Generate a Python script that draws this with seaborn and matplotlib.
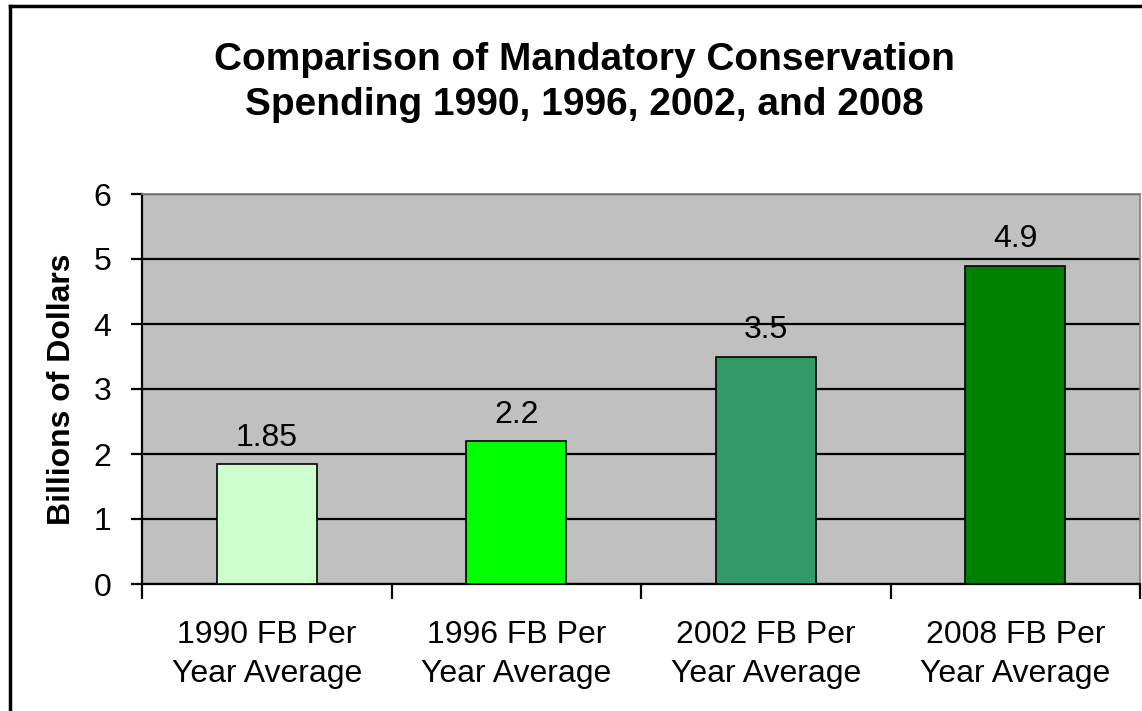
import pandas as pd
import seaborn as sns
import matplotlib.pyplot as plt
from matplotlib.lines import Line2D

categories = ["1990 FB Per\nYear Average", "1996 FB Per\nYear Average",
              "2002 FB Per\nYear Average", "2008 FB Per\nYear Average"]
spending = [1.85, 2.2, 3.5, 4.9]
value_labels = ["1.85", "2.2", "3.5", "4.9"]
bar_colors = ["#CCFFCC", "#00FF00", "#339966", "#008000"]

df = pd.DataFrame({"period": categories, "billions": spending})

plt.rcParams['font.family'] = ['Liberation Sans', 'DejaVu Sans']

fig = plt.figure(figsize=(11.42, 7.11), dpi=100)
ax = fig.add_axes([142 / 1142, 127 / 711, 998 / 1142, 390 / 711])

sns.barplot(data=df, x="period", y="billions", hue="period", palette=bar_colors,
            legend=False, width=0.4, edgecolor="black", linewidth=1.2,
            saturation=1, ax=ax, zorder=3)

ax.set_facecolor("#C0C0C0")
ax.set_ylim(0, 6)
ax.set_xlim(-0.5, 3.5)
ax.set_yticks(range(0, 7))
ax.yaxis.grid(True, color="black", linewidth=1.6, zorder=1)
ax.set_axisbelow(True)

# value labels above bars
for i, (v, lab) in enumerate(zip(spending, value_labels)):
    ax.annotate(lab, (i, v), xytext=(0, 8), textcoords="offset points",
                ha="center", va="bottom", fontsize=23)

# spines
for side in ["top", "right"]:
    ax.spines[side].set_color("#808080")
    ax.spines[side].set_linewidth(1.2)
for side in ["left", "bottom"]:
    ax.spines[side].set_color("black")
    ax.spines[side].set_linewidth(1.6)

# ticks: category boundaries on x
ax.set_xticks([-0.5, 0.5, 1.5, 2.5, 3.5], minor=True)
ax.tick_params(axis="x", which="minor", length=11, width=1.6, direction="out")
ax.tick_params(axis="x", which="major", length=0, pad=26, labelsize=23)
ax.tick_params(axis="y", length=8, width=1.6, pad=14, labelsize=23)
for lab in ax.get_xticklabels():
    lab.set_linespacing(1.4)

ax.set_xlabel("")
ax.set_ylabel("Billions of Dollars", fontsize=23, fontweight="bold", labelpad=12)

fig.suptitle("Comparison of Mandatory Conservation\nSpending 1990, 1996, 2002, and 2008",
             x=584 / 1142, y=1 - 42 / 711, va="top", fontsize=28, fontweight="bold",
             linespacing=1.32)

# outer chart border
fig.add_artist(Line2D([10 / 1142, 10 / 1142], [0, 1 - 6 / 711], color="black",
                      linewidth=2.5, transform=fig.transFigure))
fig.add_artist(Line2D([10 / 1142, 1], [1 - 6 / 711, 1 - 6 / 711], color="black",
                      linewidth=2.5, transform=fig.transFigure))

fig.savefig("out.png", dpi=100)
